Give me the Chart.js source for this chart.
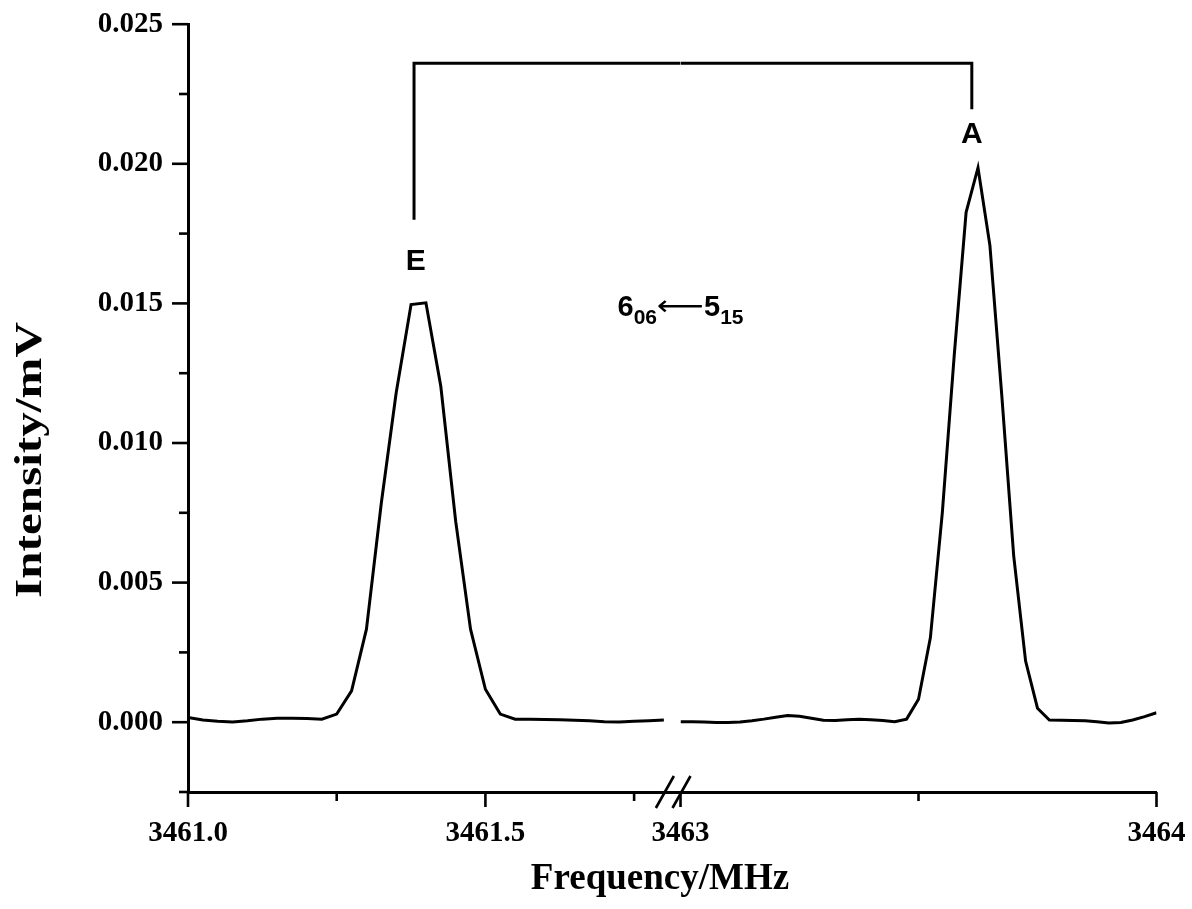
<!DOCTYPE html>
<html>
<head>
<meta charset="utf-8">
<script src="https://cdn.jsdelivr.net/npm/chart.js@4/dist/chart.umd.min.js"></script>
<style>
  html, body { margin: 0; padding: 0; background: #ffffff; }
  #wrap { width: 1192px; height: 909px; }
</style>
</head>
<body>
<div id="wrap"><canvas id="spectrum" width="1192" height="909"></canvas></div>
<script>
// ---- Spectrum: lower segment (3461.0 – 3461.8 MHz) ----
const freqLow = [
  3461.000, 3461.025, 3461.050, 3461.075, 3461.100, 3461.125, 3461.150, 3461.175,
  3461.200, 3461.225, 3461.250, 3461.275, 3461.300, 3461.325, 3461.350, 3461.375,
  3461.400, 3461.425, 3461.450, 3461.475, 3461.500, 3461.525, 3461.550, 3461.575,
  3461.600, 3461.625, 3461.650, 3461.675, 3461.700, 3461.725, 3461.750, 3461.775,
  3461.800
];
const intensityLow = [
  0.00017, 0.00008, 0.00003, 0.00001, 0.00005, 0.00011, 0.00014, 0.00014,
  0.00013, 0.00011, 0.00029, 0.00112, 0.00333, 0.00785, 0.01180, 0.01496,
  0.01502, 0.01203, 0.00720, 0.00333, 0.00118, 0.00029, 0.00011, 0.00011,
  0.00010, 0.00009, 0.00007, 0.00005, 0.00002, 0.00001, 0.00003, 0.00005,
  0.00008
];

// ---- Spectrum: upper segment (3463.0 – 3464.0 MHz) ----
const freqHigh = [
  3463.000, 3463.025, 3463.050, 3463.075, 3463.100, 3463.125, 3463.150, 3463.175,
  3463.200, 3463.225, 3463.250, 3463.275, 3463.300, 3463.325, 3463.350, 3463.375,
  3463.400, 3463.425, 3463.450, 3463.475, 3463.500, 3463.525, 3463.550, 3463.575,
  3463.600, 3463.625, 3463.650, 3463.675, 3463.700, 3463.725, 3463.750, 3463.775,
  3463.800, 3463.825, 3463.850, 3463.875, 3463.900, 3463.925, 3463.950, 3463.975,
  3464.000
];
const intensityHigh = [
  0.00002, 0.00002, 0.00001, -0.00001, -0.00001, 0.00001, 0.00005, 0.00011,
  0.00018, 0.00024, 0.00021, 0.00014, 0.00007, 0.00006, 0.00009, 0.00011,
  0.00009, 0.00006, 0.00002, 0.00011, 0.00082, 0.00303, 0.00750, 0.01313,
  0.01826, 0.01986, 0.01708, 0.01170, 0.00596, 0.00219, 0.00050, 0.00008,
  0.00007, 0.00006, 0.00005, 0.00002, -0.00003, -0.00001, 0.00008, 0.00020,
  0.00034
];

// ---- Axis ranges and ticks ----
const lowRange = [3461.0, 3461.828];
const highRange = [3463.0, 3464.0];
const lowTickValues = [3461.0, 3461.25, 3461.5, 3461.75];
const lowTickLabels = ['3461.0', '', '3461.5', ''];
const highTickValues = [3463.0, 3463.5, 3464.0];
const highTickLabels = ['3463', '', '3464'];
const yRange = [-0.0025, 0.025];
const yTickValues = [-0.0025, 0.0, 0.0025, 0.005, 0.0075, 0.010, 0.0125, 0.015, 0.0175, 0.020, 0.0225, 0.025];
const yTickLabels = ['', '0.000', '', '0.005', '', '0.010', '', '0.015', '', '0.020', '', '0.025'];

// ---- E / A assignment bracket ----
const bracketE = [3461.38, 0.0180];
const bracketA = [3463.612, 0.02195];
const bracketTop = 0.0236;

// ---- Annotation text ----
const peakLabels = [
  { text: 'E', axis: 'xL', x: 3461.383, y: 0.0165 },
  { text: 'A', axis: 'xR', x: 3463.612, y: 0.02104 }
];
const transition = { upper: '6', upperSub: '06', arrow: '\u27F5', lower: '5', lowerSub: '15', axis: 'xR', x: 3463.0, y: 0.0149 };
const xTitle = 'Frequency/MHz';
const yTitle = 'Intensity/mV';

const serifBold = "'Liberation Serif', 'Times New Roman', serif";
const sansBold = "'Liberation Sans', Arial, sans-serif";

function labelFor(values, labels, v) {
  const i = values.findIndex(t => Math.abs(t - v) < 1e-9);
  return i >= 0 ? labels[i] : '';
}

function toPoints(xs, ys) {
  return xs.map((x, i) => ({ x: x, y: ys[i] }));
}

function xAxis(range, tickValues, tickLabels, weight) {
  return {
    type: 'linear',
    position: 'bottom',
    stack: 'freq',
    stackWeight: weight,
    min: range[0],
    max: range[1],
    afterBuildTicks: s => { s.ticks = tickValues.map(v => ({ value: v })); },
    afterFit: s => { s.height = 117; s.paddingLeft = 0; s.paddingRight = 0; },
    grid: { display: true, drawOnChartArea: false, drawTicks: false },
    border: { display: true, color: '#000', width: 3 },
    ticks: {
      autoSkip: false,
      maxRotation: 0,
      padding: 24,
      color: '#000',
      font: { family: serifBold, weight: 'bold', size: 29 },
      callback: v => labelFor(tickValues, tickLabels, v)
    }
  };
}

// Tick marks, axis break, annotations and axis titles
const decorations = {
  id: 'decorations',
  afterDraw(chart) {
    const ctx = chart.ctx;
    const y = chart.scales.y;
    const xL = chart.scales.xL;
    const xR = chart.scales.xR;
    const seg = (x1, y1, x2, y2) => { ctx.beginPath(); ctx.moveTo(x1, y1); ctx.lineTo(x2, y2); ctx.stroke(); };

    ctx.save();
    ctx.strokeStyle = '#000';
    ctx.fillStyle = '#000';
    ctx.lineWidth = 2.6;
    ctx.lineCap = 'butt';

    // y-axis ticks (outward)
    const yEdge = y.right;
    y.ticks.forEach(t => {
      const py = y.getPixelForValue(t.value);
      const len = labelFor(yTickValues, yTickLabels, t.value) ? 16 : 9;
      seg(yEdge - len, py, yEdge, py);
    });

    // x-axis ticks (outward)
    [[xL, lowTickValues, lowTickLabels], [xR, highTickValues, highTickLabels]].forEach(([sc, vals, labs]) => {
      vals.forEach(v => {
        const px = sc.getPixelForValue(v);
        const len = labelFor(vals, labs, v) ? 15 : 9;
        seg(px, sc.top, px, sc.top + len);
      });
    });

    // axis break marks
    const by = xL.top;
    [xL.getPixelForValue(freqLow[freqLow.length - 1]) + 1, xR.getPixelForValue(highRange[0]) + 1].forEach(cx => {
      seg(cx - 9, by + 16, cx + 9, by - 16);
    });

    // peak labels
    ctx.textAlign = 'center';
    ctx.textBaseline = 'middle';
    ctx.font = 'bold 30px ' + sansBold;
    peakLabels.forEach(l => {
      const sc = chart.scales[l.axis];
      ctx.fillText(l.text, sc.getPixelForValue(l.x), y.getPixelForValue(l.y));
    });

    // transition label 6_06 <- 5_15
    const mainFont = 'bold 29px ' + sansBold;
    const subFont = 'bold 21px ' + sansBold;
    const arrowFont = '28px "DejaVu Sans", sans-serif';
    const arrowWidth = 47;
    ctx.textAlign = 'left';
    ctx.textBaseline = 'alphabetic';
    ctx.font = mainFont;
    const wUp = ctx.measureText(transition.upper).width;
    const wLo = ctx.measureText(transition.lower).width;
    ctx.font = subFont;
    const wUpS = ctx.measureText(transition.upperSub).width;
    const wLoS = ctx.measureText(transition.lowerSub).width;
    const total = wUp + wUpS + arrowWidth + wLo + wLoS;
    const cx = chart.scales[transition.axis].getPixelForValue(transition.x);
    const base = y.getPixelForValue(transition.y) + 10;
    let px = cx - total / 2;
    ctx.font = mainFont; ctx.fillText(transition.upper, px, base); px += wUp;
    ctx.font = subFont; ctx.fillText(transition.upperSub, px, base + 8); px += wUpS;
    ctx.font = arrowFont;
    const wArrow = ctx.measureText(transition.arrow).width;
    ctx.save();
    ctx.translate(px, base - 1);
    ctx.scale(arrowWidth / wArrow, 1);
    ctx.fillText(transition.arrow, 0, 0);
    ctx.restore();
    px += arrowWidth;
    ctx.font = mainFont; ctx.fillText(transition.lower, px, base); px += wLo;
    ctx.font = subFont; ctx.fillText(transition.lowerSub, px, base + 8);

    // axis titles
    ctx.font = 'bold 37px ' + serifBold;
    ctx.textAlign = 'center';
    ctx.textBaseline = 'alphabetic';
    ctx.fillText(xTitle, 660, 889);
    const yTitleLength = 276;
    const wY = ctx.measureText(yTitle).width;
    ctx.save();
    ctx.translate(41, 460);
    ctx.rotate(-Math.PI / 2);
    ctx.scale(yTitleLength / wY, 1);
    ctx.fillText(yTitle, 0, 0);
    ctx.restore();

    ctx.restore();
  }
};

const lineStyle = { borderColor: '#000', borderWidth: 3, pointRadius: 0, tension: 0, fill: false };

new Chart(document.getElementById('spectrum'), {
  type: 'line',
  data: {
    datasets: [
      Object.assign({ label: 'low', xAxisID: 'xL', yAxisID: 'y', data: toPoints(freqLow, intensityLow) }, lineStyle),
      Object.assign({ label: 'high', xAxisID: 'xR', yAxisID: 'y', data: toPoints(freqHigh, intensityHigh) }, lineStyle),
      Object.assign({ label: 'bracketE', xAxisID: 'xL', yAxisID: 'y',
        data: [{ x: bracketE[0], y: bracketE[1] }, { x: bracketE[0], y: bracketTop }, { x: lowRange[1], y: bracketTop }] }, lineStyle),
      Object.assign({ label: 'bracketA', xAxisID: 'xR', yAxisID: 'y',
        data: [{ x: highRange[0], y: bracketTop }, { x: bracketA[0], y: bracketTop }, { x: bracketA[0], y: bracketA[1] }] }, lineStyle)
    ]
  },
  options: {
    responsive: false,
    animation: false,
    events: [],
    layout: { padding: { top: 24.2, right: 35.5, bottom: 0, left: 0 } },
    plugins: { legend: { display: false }, tooltip: { enabled: false }, title: { display: false } },
    scales: {
      xL: xAxis(lowRange, lowTickValues, lowTickLabels, 492),
      xR: xAxis(highRange, highTickValues, highTickLabels, 475.5),
      y: {
        type: 'linear',
        position: 'left',
        min: yRange[0],
        max: yRange[1],
        afterBuildTicks: s => { s.ticks = yTickValues.map(v => ({ value: v })); },
        afterFit: s => { s.width = 188; s.paddingTop = 0; s.paddingBottom = 0; },
        grid: { display: true, drawOnChartArea: false, drawTicks: false },
        border: { display: true, color: '#000', width: 3 },
        ticks: {
          autoSkip: false,
          padding: 25,
          color: '#000',
          font: { family: serifBold, weight: 'bold', size: 29 },
          callback: v => labelFor(yTickValues, yTickLabels, v)
        }
      }
    }
  },
  plugins: [decorations]
});
</script>
</body>
</html>
